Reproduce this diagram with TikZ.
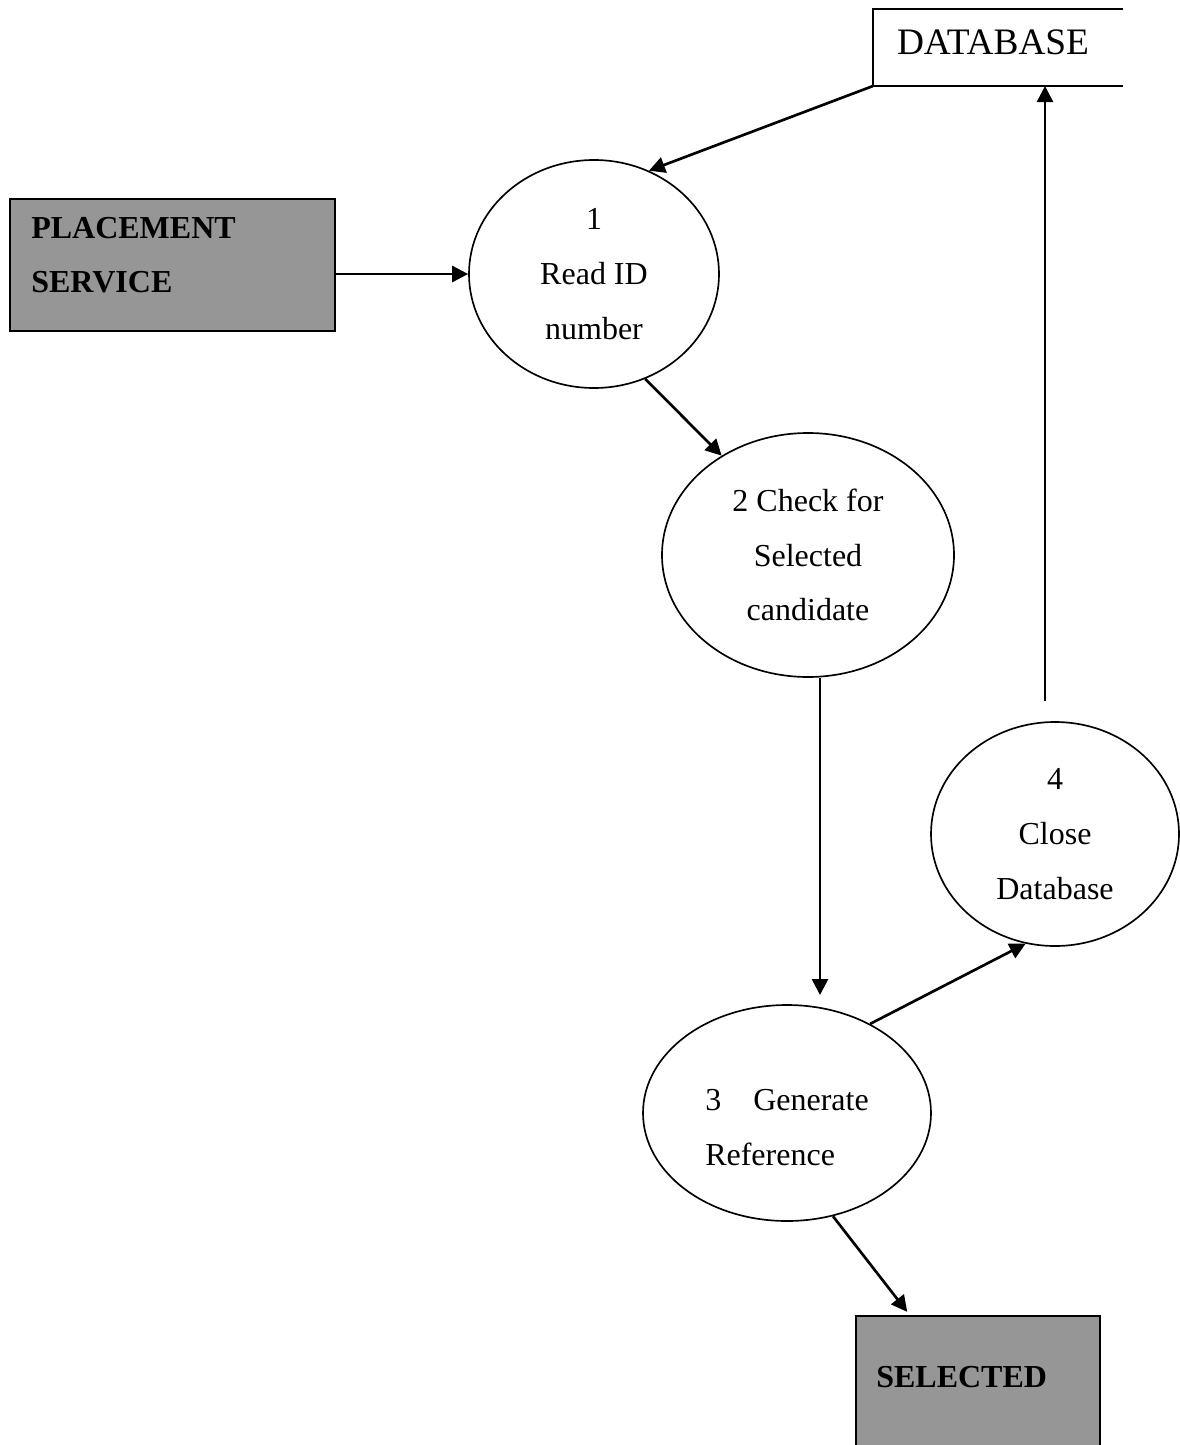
\documentclass[tikz,border=0pt]{standalone}
\usepackage{fontspec}
\setmainfont{Liberation Serif}
\usepackage{tikz}
\usetikzlibrary{shapes, arrows.meta, positioning}
\definecolor{entitygray}{RGB}{150,150,150}
\tikzstyle{process} = [draw, ellipse, line width=1.25pt, inner sep=0pt, align=center, font=\fontsize{24}{41}\selectfont]
\tikzstyle{entity} = [draw, fill=entitygray, line width=1.5pt, rectangle, inner sep=0pt]
\tikzstyle{entitytitle} = [font=\fontsize{24}{41}\selectfont\bfseries, align=left, inner sep=0pt, anchor=west]
\tikzstyle{storetitle} = [font=\fontsize{28}{34}\selectfont, inner sep=0pt]
\tikzstyle{flow} = [line width=2pt, -{Triangle[length=12pt,width=12pt]}]

\begin{document}
\begin{tikzpicture}[x=0.75pt, y=-0.75pt]
	\path[use as bounding box, clip] (0,0) rectangle (1180,1445);
	% data store
	\draw[line width=1.5pt] (1123,9) -- (873,9) -- (873,86) coordinate (dbcorner) -- (1123,86);
	\node[storetitle] (dbtitle) at (993,42) {DATABASE};
	\coordinate (dbin) at (1045,86);
	% external entities
	\node[entity, minimum width=243.75pt, minimum height=99pt] (placement) at (172.5,265) {};
	\node[entitytitle] (placementtitle) at ([xshift=16.5pt, yshift=7.5pt]placement.west) {PLACEMENT\\SERVICE};
	\node[entity, minimum width=183pt, minimum height=112.5pt] (selected) at (978,1391) {};
	\node[entitytitle] (selectedtitle) at ([xshift=15.75pt, yshift=10.5pt]selected.west) {SELECTED};
	% processes
	\node[process, minimum width=187.5pt, minimum height=171pt] (read) at (594,274) {1\\Read ID\\number};
	\node[process, minimum width=219pt, minimum height=183pt] (check) at (808,555) {2 Check for\\Selected\\candidate};
	\node[process, align=left, minimum width=216pt, minimum height=162pt] (generate) at (787,1113) {\rule{0pt}{38pt}3\quad Generate\\Reference};
	\node[process, minimum width=186pt, minimum height=168pt] (close) at (1055,834) {4\\Close\\Database};
	\coordinate (generatein) at (820,995);
	% flows
	\draw[flow] (dbcorner) -- (read.62);
	\draw[flow] (placement.east |- read.west) -- (read.west);
	\draw[flow] (read.-64) -- (check.131);
	\draw[flow] (check.south -| generatein) -- (generatein);
	\draw[flow] (generate.47) -- (close.255);
	\draw[flow, shorten <=15pt] (close.north -| dbin) -- (dbin);
	\draw[flow, shorten >=3pt] (generate.-66) -- ([xshift=41pt]selected.north west);
\end{tikzpicture}
\end{document}
